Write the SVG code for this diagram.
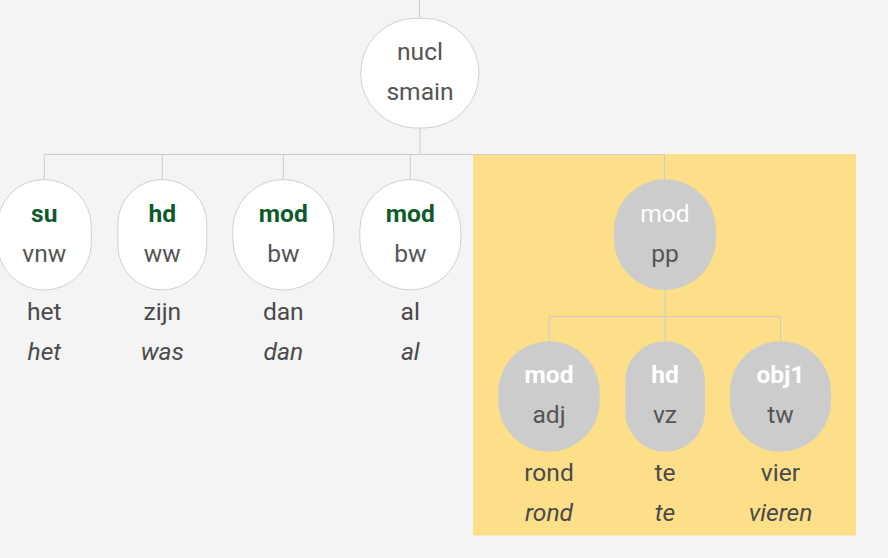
<svg xmlns="http://www.w3.org/2000/svg" width="888" height="558" viewBox="0 0 888 558">
<style>
.bg{fill:#f4f4f4}
.hl{fill:#fddf89}
.n{fill:#ffffff;stroke:#d0d0d0;stroke-width:1}
.g{fill:#cccccc}
.c{fill:none;stroke:#cccccc;stroke-width:1}
text{font-family:Roboto,"Liberation Sans",sans-serif;font-size:24.6px;text-anchor:middle}
.lb{font-weight:bold;fill:#0f5a2b}
.lw{fill:#ffffff}
.lwb{font-weight:bold;fill:#ffffff}
.p{fill:#555555}
.w{fill:#4a4a4a}
.wi{fill:#4a4a4a;font-style:italic}
</style>
<rect class="bg" x="0" y="0" width="888" height="558"/>
<rect class="hl" x="473" y="154" width="383" height="381.5"/>
<g id="connectors">
<path class="c" d="M419.5 0V18.5M420 128V154.5M44.3 154.5H664.5M44.3 154.5V179.5M162.3 154.5V179.5M283.3 154.5V179.5M410.3 154.5V179.5M664.5 154.5V179.5"/>
<path class="c" d="M665 290V316.5M549 316.5H780.5M549 316.5V341.2M665 316.5V341.2M780.5 316.5V341.2"/>
</g>
<g id="nucl">
<rect class="n" x="360.7" y="18.3" width="118.3" height="109.7" rx="54.8" ry="54.8"/>
<text class="p" x="420" y="60.3">nucl</text>
<text class="p" x="420" y="100.3">smain</text>
</g>
<g id="su">
<rect class="n" x="-2.7" y="179.5" width="94" height="110.5" rx="47" ry="47"/>
<text class="lb" x="44.3" y="221.9">su</text>
<text class="p" x="44.3" y="261.9">vnw</text>
<text class="w" x="44.3" y="320.2">het</text>
<text class="wi" x="44.3" y="360.2">het</text>
</g>
<g id="hd">
<rect class="n" x="117.8" y="179.5" width="89" height="110.5" rx="44.5" ry="44.5"/>
<text class="lb" x="162.3" y="221.9">hd</text>
<text class="p" x="162.3" y="261.9">ww</text>
<text class="w" x="162.3" y="320.2">zijn</text>
<text class="wi" x="162.3" y="360.2">was</text>
</g>
<g id="mod1">
<rect class="n" x="232.8" y="179.5" width="101" height="110.5" rx="50.5" ry="50.5"/>
<text class="lb" x="283.3" y="221.9">mod</text>
<text class="p" x="283.3" y="261.9">bw</text>
<text class="w" x="283.3" y="320.2">dan</text>
<text class="wi" x="283.3" y="360.2">dan</text>
</g>
<g id="mod2">
<rect class="n" x="359.8" y="179.5" width="101" height="110.5" rx="50.5" ry="50.5"/>
<text class="lb" x="410.3" y="221.9">mod</text>
<text class="p" x="410.3" y="261.9">bw</text>
<text class="w" x="410.3" y="320.2">al</text>
<text class="wi" x="410.3" y="360.2">al</text>
</g>
<g id="pp">
<rect class="g" x="614" y="179.3" width="102" height="110.7" rx="51" ry="51"/>
<text class="lw" x="665" y="221.9">mod</text>
<text class="p" x="665" y="261.9">pp</text>
</g>
<g id="adj">
<rect class="g" x="498.3" y="341.2" width="101.4" height="110.5" rx="50.7" ry="50.7"/>
<text class="lwb" x="549" y="382.9">mod</text>
<text class="p" x="549" y="422.9">adj</text>
<text class="w" x="549" y="481.2">rond</text>
<text class="wi" x="549" y="521.2">rond</text>
</g>
<g id="vz">
<rect class="g" x="625.2" y="341.2" width="79.8" height="110.5" rx="39.9" ry="39.9"/>
<text class="lwb" x="665" y="382.9">hd</text>
<text class="p" x="665" y="422.9">vz</text>
<text class="w" x="665" y="481.2">te</text>
<text class="wi" x="665" y="521.2">te</text>
</g>
<g id="tw">
<rect class="g" x="730" y="341.2" width="101" height="110.5" rx="50.5" ry="50.5"/>
<text class="lwb" x="780.5" y="382.9">obj1</text>
<text class="p" x="780.5" y="422.9">tw</text>
<text class="w" x="780.5" y="481.2">vier</text>
<text class="wi" x="780.5" y="521.2">vieren</text>
</g>
</svg>
